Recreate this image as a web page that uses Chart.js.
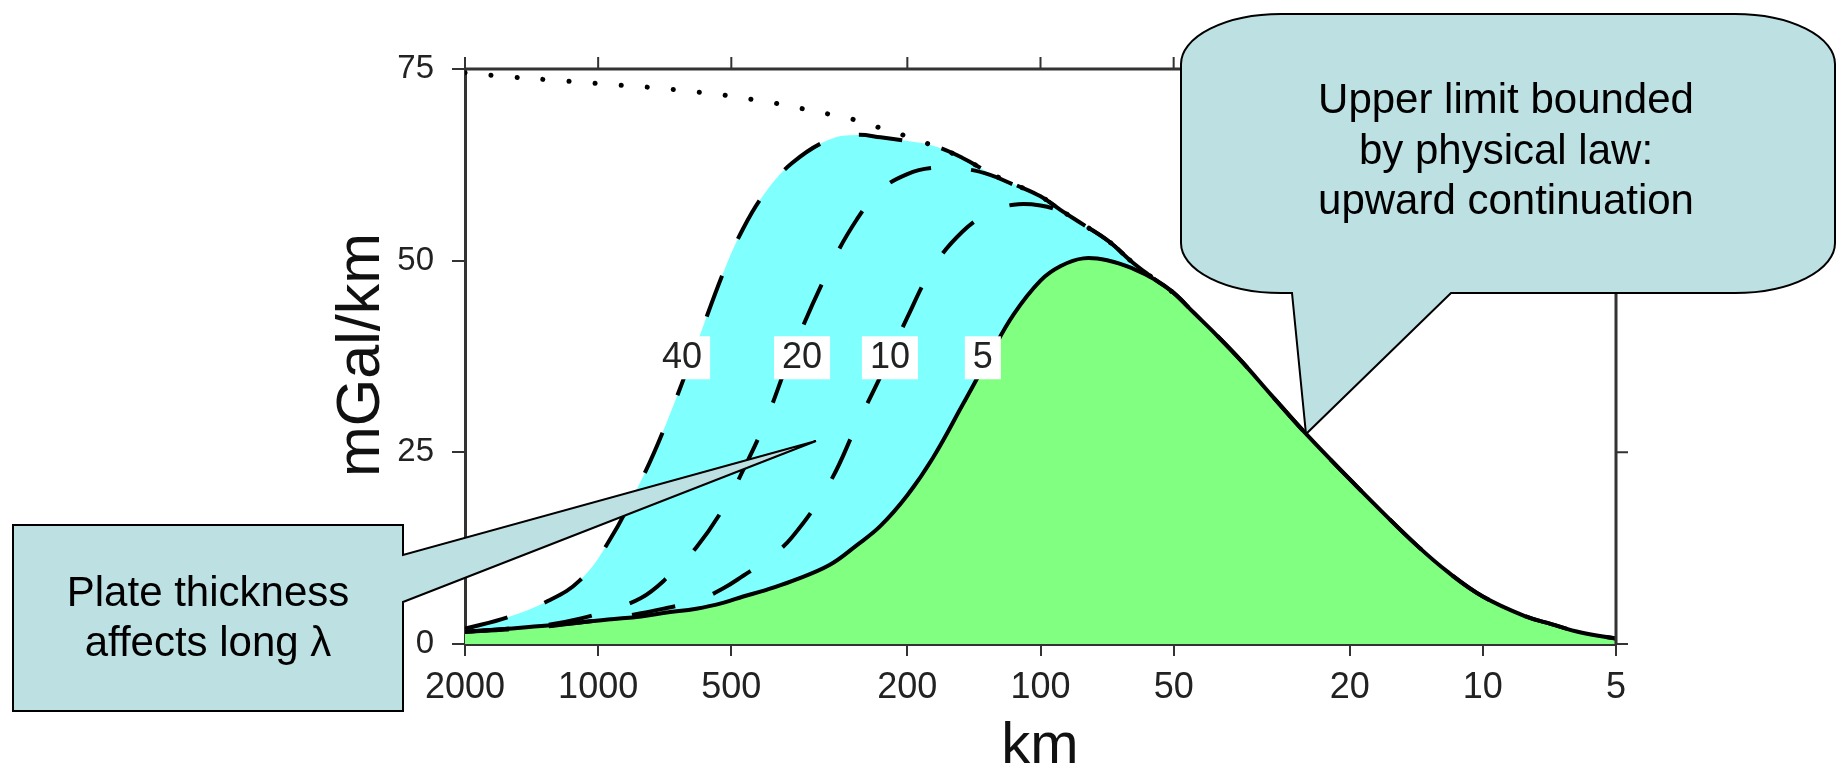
<!DOCTYPE html>
<html>
<head>
<meta charset="utf-8">
<title>Admittance vs wavelength</title>
<script src="https://cdn.jsdelivr.net/npm/chart.js"></script>
<style>
  html, body { margin: 0; padding: 0; background: #fff; }
  #wrap { width: 1839px; height: 768px; }
</style>
</head>
<body>
<div id="wrap"><canvas id="myChart" width="1839" height="768"></canvas></div>
<script>
// wavelength (km) along the x axis, largest on the left
const wavelengthKm = [2000, 1600, 1300, 1100, 950, 800, 700, 600, 520, 470, 420, 365, 300, 260, 230, 200, 175, 150, 130, 115, 100, 90, 80, 70, 62, 55, 50, 45, 40, 35, 30, 25, 20, 17, 14, 12, 10, 8, 7, 6, 5];

// mGal/km for each plate thickness (km)
const plate5 = [1.6, 2.0, 2.4, 2.8, 3.2, 3.6, 4.1, 4.6, 5.4, 6.2, 7.0, 8.2, 10.3, 12.9, 15.4, 19.4, 24.3, 31.2, 37.7, 43.0, 47.4, 49.3, 50.3, 50.0, 49.0, 47.5, 45.8, 43.2, 40.3, 36.8, 32.4, 27.3, 21.5, 17.4, 12.7, 9.4, 6.2, 3.6, 2.6, 1.5, 0.7];
const plate10 = [1.6, 1.9, 2.3, 2.8, 3.3, 4.0, 4.7, 5.6, 7.3, 8.9, 10.8, 13.9, 21.0, 28.6, 34.9, 42.6, 49.1, 53.8, 56.3, 57.3, 57.2, 56.4, 54.7, 52.5, 49.8, 47.5, null, null, null, null, null, null, null, null, null, null, null, null, null, null, null];
const plate20 = [1.6, 2.0, 2.5, 3.3, 4.4, 6.0, 8.6, 12.6, 17.8, 22.7, 28.8, 38.0, 49.0, 55.4, 59.2, 61.3, 62.1, 62.0, 61.2, 59.9, 58.4, 56.6, 54.7, 52.5, 49.8, 47.5, null, null, null, null, null, null, null, null, null, null, null, null, null, null, null];
const plate40 = [2.0, 3.5, 5.6, 8.3, 13.2, 21.3, 28.9, 39.0, 48.6, 54.2, 58.8, 62.7, 65.8, 66.4, 66.1, 65.6, 65.0, 63.4, 61.4, 60.0, 58.4, 56.6, 54.7, 52.5, 49.8, 47.5, 45.8, 43.2, 40.3, 36.8, 32.4, 27.3, 21.5, 17.4, 12.7, 9.4, 6.2, 3.6, 2.6, 1.5, 0.7];
// upper limit from upward continuation
const upperLimit = [74.5, 74.0, 73.6, 73.3, 73.0, 72.7, 72.4, 72.0, 71.6, 71.2, 70.8, 70.1, 69.1, 68.3, 67.3, 66.2, 65.0, 63.4, 61.4, 60.0, 58.4, 56.6, 54.7, 52.5, 49.8, 47.5, 45.8, null, null, null, null, null, null, null, null, null, null, null, null, null, null];

const xTicks = [2000, 1000, 500, 200, 100, 50, 20, 10, 5];
const yTicks = [0, 25, 50, 75];

// curve labels: text and where they sit (km, mGal/km)
const labelText = ['40', '20', '10', '5'];
const labelKm = [646, 346, 219, 135];
const labelVal = [37.4, 37.4, 37.4, 37.4];

const FONT = '"Liberation Sans", Arial, Helvetica, sans-serif';

function pts(series) {
    return wavelengthKm.map((km, i) => ({ x: km, y: series[i] }));
}

function drawCallouts(ctx) {
    ctx.save();
    ctx.fillStyle = '#bde0e3';
    ctx.strokeStyle = '#000';
    ctx.lineWidth = 2;
    ctx.lineJoin = 'miter';

    // upper right rounded callout
    const L = 1181, T = 14, R = 1835, B = 293, rx = 100, ry = 50;
    ctx.beginPath();
    ctx.moveTo(L + rx, T);
    ctx.lineTo(R - rx, T);
    ctx.ellipse(R - rx, T + ry, rx, ry, 0, -Math.PI / 2, 0);
    ctx.lineTo(R, B - ry);
    ctx.ellipse(R - rx, B - ry, rx, ry, 0, 0, Math.PI / 2);
    ctx.lineTo(1451, B);
    ctx.lineTo(1306, 434);
    ctx.lineTo(1292, B);
    ctx.lineTo(L + rx, B);
    ctx.ellipse(L + rx, B - ry, rx, ry, 0, Math.PI / 2, Math.PI);
    ctx.lineTo(L, T + ry);
    ctx.ellipse(L + rx, T + ry, rx, ry, 0, Math.PI, Math.PI * 1.5);
    ctx.closePath();
    ctx.fill();
    ctx.stroke();

    // lower left rectangular callout
    ctx.beginPath();
    ctx.moveTo(13, 525);
    ctx.lineTo(403, 525);
    ctx.lineTo(403, 555);
    ctx.lineTo(816, 441);
    ctx.lineTo(403, 602);
    ctx.lineTo(403, 711);
    ctx.lineTo(13, 711);
    ctx.closePath();
    ctx.fill();
    ctx.stroke();

    ctx.fillStyle = '#000';
    ctx.font = '42px ' + FONT;
    ctx.textAlign = 'center';
    ctx.textBaseline = 'alphabetic';
    ctx.fillText('Upper limit bounded', 1506, 113);
    ctx.fillText('by physical law:', 1506, 164);
    ctx.fillText('upward continuation', 1506, 214);
    ctx.fillText('Plate thickness', 208, 606);
    ctx.fillText('affects long \u03bb', 208, 656);
    ctx.restore();
}

const overlay = {
    id: 'overlay',
    afterDatasetsDraw(chart) {
        const ctx = chart.ctx;
        const x = chart.scales.x, y = chart.scales.y;
        ctx.save();
        ctx.font = '36px ' + FONT;
        ctx.textAlign = 'center';
        ctx.textBaseline = 'middle';
        labelText.forEach((t, i) => {
            const px = x.getPixelForValue(labelKm[i]);
            const py = y.getPixelForValue(labelVal[i]);
            const w = ctx.measureText(t).width + 16;
            ctx.fillStyle = '#fff';
            ctx.fillRect(px - w / 2, py - 21, w, 43);
            ctx.fillStyle = '#222';
            ctx.fillText(t, px, py + 1);
        });
        ctx.restore();
    },
    afterDraw(chart) {
        const ctx = chart.ctx;
        const a = chart.chartArea;
        const x = chart.scales.x, y = chart.scales.y;
        ctx.save();
        // top and right frame with outward ticks
        ctx.strokeStyle = '#333';
        ctx.lineWidth = 3;
        ctx.beginPath();
        ctx.moveTo(a.left, a.top);
        ctx.lineTo(a.right, a.top);
        ctx.lineTo(a.right, a.bottom);
        ctx.stroke();
        ctx.lineWidth = 2;
        ctx.beginPath();
        xTicks.forEach(v => {
            const px = x.getPixelForValue(v);
            ctx.moveTo(px, a.top);
            ctx.lineTo(px, a.top - 12);
        });
        yTicks.forEach(v => {
            const py = y.getPixelForValue(v);
            ctx.moveTo(a.right, py);
            ctx.lineTo(a.right + 12, py);
        });
        ctx.stroke();

        // axis titles
        ctx.fillStyle = '#111';
        ctx.font = '58px ' + FONT;
        ctx.textAlign = 'center';
        ctx.textBaseline = 'alphabetic';
        ctx.fillText('km', 1040, 763);
        ctx.font = '61px ' + FONT;
        ctx.translate(379, 355);
        ctx.rotate(-Math.PI / 2);
        ctx.fillText('mGal/km', 0, 0);
        ctx.restore();

        drawCallouts(ctx);
    }
};

const lineBase = { pointRadius: 0, borderColor: '#000', tension: 0.4, spanGaps: false };

new Chart(document.getElementById('myChart'), {
    type: 'line',
    data: {
        datasets: [
            Object.assign({ label: '5', data: pts(plate5), borderWidth: 4, fill: 'origin', backgroundColor: '#80ff80' }, lineBase),
            Object.assign({ label: '10', data: pts(plate10), borderWidth: 4, borderDash: [44, 40], fill: false }, lineBase),
            Object.assign({ label: '20', data: pts(plate20), borderWidth: 4, borderDash: [44, 40], fill: false }, lineBase),
            Object.assign({ label: '40', data: pts(plate40), borderWidth: 4, borderDash: [44, 40], fill: 'origin', backgroundColor: '#80ffff' }, lineBase),
            Object.assign({ label: 'upper limit', data: pts(upperLimit), borderWidth: 5, borderDash: [0.1, 26], borderCapStyle: 'round', fill: false }, lineBase)
        ]
    },
    options: {
        responsive: false,
        animation: false,
        devicePixelRatio: 1,
        layout: { padding: { top: 69, right: 223, bottom: 0, left: 0 } },
        plugins: {
            legend: { display: false },
            tooltip: { enabled: false },
            filler: { drawTime: 'beforeDatasetsDraw' }
        },
        scales: {
            x: {
                type: 'logarithmic',
                min: 5,
                max: 2000,
                reverse: true,
                afterBuildTicks: s => { s.ticks = xTicks.map(v => ({ value: v })); },
                afterFit: s => { s.height = 124; },
                ticks: {
                    autoSkip: false,
                    maxRotation: 0,
                    padding: 10,
                    color: '#222',
                    font: { family: FONT, size: 36 },
                    callback: v => String(v)
                },
                grid: { drawOnChartArea: false, drawTicks: true, tickLength: 12, color: '#333', lineWidth: 2 },
                border: { display: true, color: '#333', width: 3 }
            },
            y: {
                type: 'linear',
                min: 0,
                max: 75,
                afterBuildTicks: s => { s.ticks = yTicks.map(v => ({ value: v })); },
                afterFit: s => { s.width = 465; },
                ticks: {
                    padding: 18,
                    color: '#222',
                    font: { family: FONT, size: 33 },
                    callback: v => String(v)
                },
                grid: { drawOnChartArea: false, drawTicks: true, tickLength: 13, color: '#333', lineWidth: 2 },
                border: { display: true, color: '#333', width: 3 }
            }
        }
    },
    plugins: [overlay]
});
</script>
</body>
</html>
